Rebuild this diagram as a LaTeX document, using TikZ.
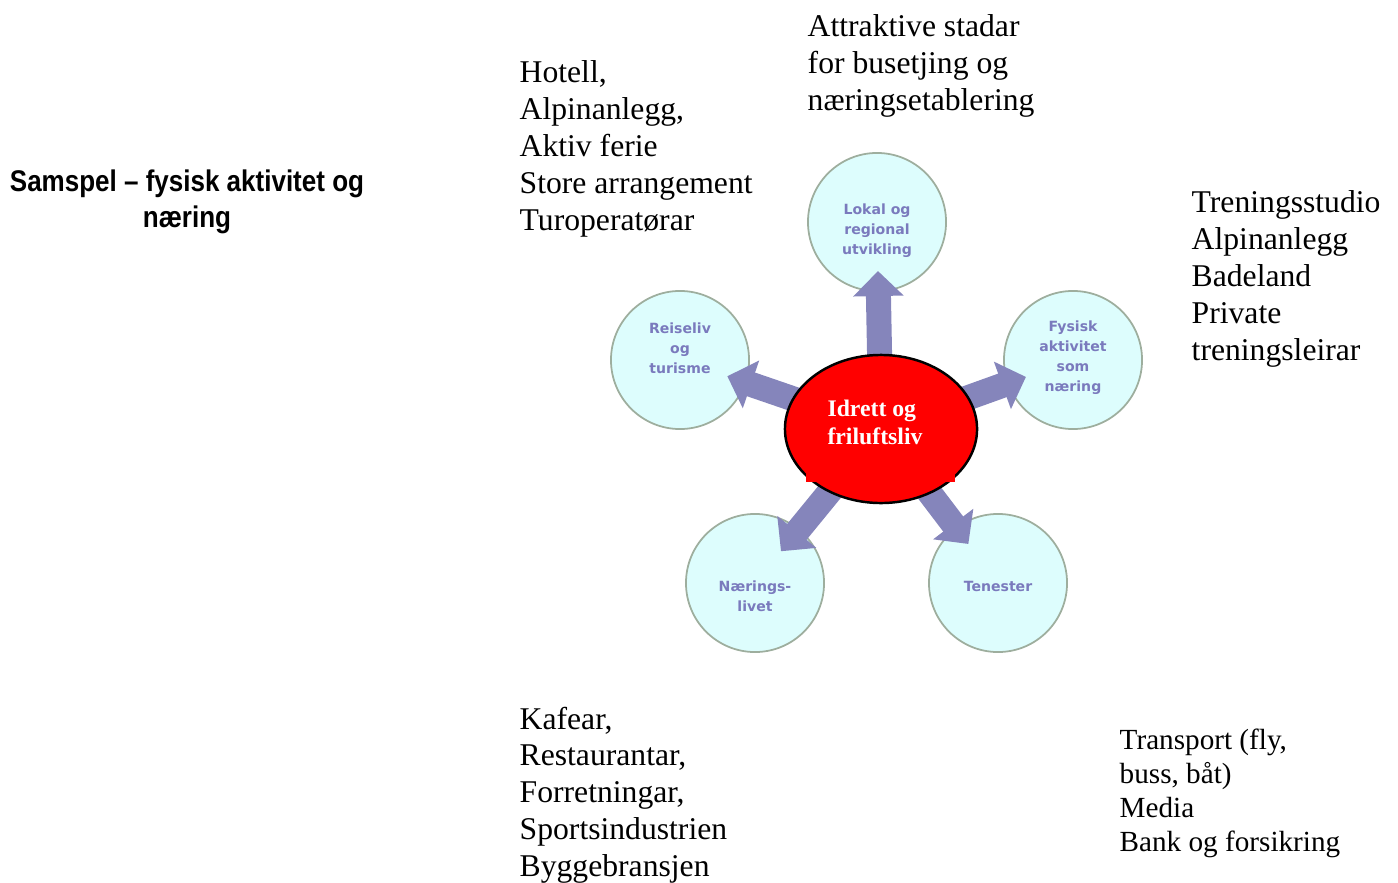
\documentclass[tikz,border=0pt]{standalone}
\usepackage{fontspec}
\setmainfont{Liberation Serif}
\newfontfamily\headfont[FakeStretch=0.87]{Liberation Sans}
\newfontfamily\roundfont{DejaVu Sans}
\usetikzlibrary{arrows.meta}
\usetikzlibrary{shapes.geometric}
\definecolor{bubblefill}{HTML}{DDFDFD}
\definecolor{bubbleline}{HTML}{9EAE9E}
\definecolor{bubbletext}{HTML}{7A7ABD}
\definecolor{fatarrow}{HTML}{8585BB}
\tikzset{
    bubble/.style={circle,draw=bubbleline,fill=bubblefill,line width=0.5pt,minimum size=1.38cm,inner sep=0pt},
    bubblelabel/.style={align=center,text=bubbletext,inner sep=0pt,font=\roundfont\bfseries\fontsize{4}{5.7}\selectfont},
    fat/.style={draw=fatarrow,line width=0.25cm,-{Triangle[width=0.49cm,length=0.25cm]},shorten >=#1},
    fat/.default=0.48cm,
    listtext/.style={anchor=north west,align=left,inner sep=0pt,font=\fontsize{9}{10.5}\selectfont}
}

\begin{document}
\begin{tikzpicture}[x=0.01cm,y=-0.01cm]
\useasboundingbox (0,0) rectangle (1398,882);
\node[anchor=north,align=center,inner sep=0pt,font=\headfont\bfseries\fontsize{8.5}{10.2}\selectfont] (title) at (187,169) {Samspel – fysisk aktivitet og\\næring};
% the five bubbles round the middle
\foreach \x/\y/\p/\ty/\labeltext in {877/222/lokal/231/{Lokal og\\regional\\utvikling}, 680/360/reise/348/{Reiseliv\\og\\turisme}, 1073/360/fysisk/358/{Fysisk\\aktivitet\\som\\næring}, 755/583/naering/596/{Nærings-\\livet}, 998/583/tenester/586/{Tenester}}{
    \node[bubble] (\p) at (\x,\y) {};
    \node[bubblelabel] (\p-text) at (\x,\ty) {\labeltext};
}
\coordinate (core) at (881,429);
\foreach \p/\s in {lokal/0.49cm, reise/0.5cm, fysisk/0.5cm, naering/0.41cm, tenester/0.49cm}
    \draw[fat=\s] (core) -- (\p.center);
% red middle
\node[ellipse,draw,fill=red,line width=0.7pt,minimum width=1.92cm,minimum height=1.48cm,inner sep=0pt] (hub) at (core) {};
\node[fill=red,minimum width=1.48cm,minimum height=0.92cm,inner sep=0pt] (hubbox) at (880.5,436) {};
\node[text=white,align=left,inner sep=0pt,font=\bfseries\fontsize{6.75}{8}\selectfont] (hubtext) at (875,422) {Idrett og\\friluftsliv};
% lists of examples
\node[listtext] (stadar) at (807,14) {Attraktive stadar\\for busetjing og\\næringsetablering};
\node[listtext] (turisme) at (519,60) {Hotell,\\Alpinanlegg,\\Aktiv ferie\\Store arrangement\\Turoperatørar};
\node[listtext] (trening) at (1191,190) {Treningsstudio\\Alpinanlegg\\Badeland\\Private\\treningsleirar};
\node[listtext] (handel) at (519,706) {Kafear,\\Restaurantar,\\Forretningar,\\Sportsindustrien\\Byggebransjen};
\node[listtext,font=\fontsize{8.3}{9.7}\selectfont] (tenestar) at (1119,728) {Transport (fly,\\buss, båt)\\Media\\Bank og forsikring};
\end{tikzpicture}
\end{document}
